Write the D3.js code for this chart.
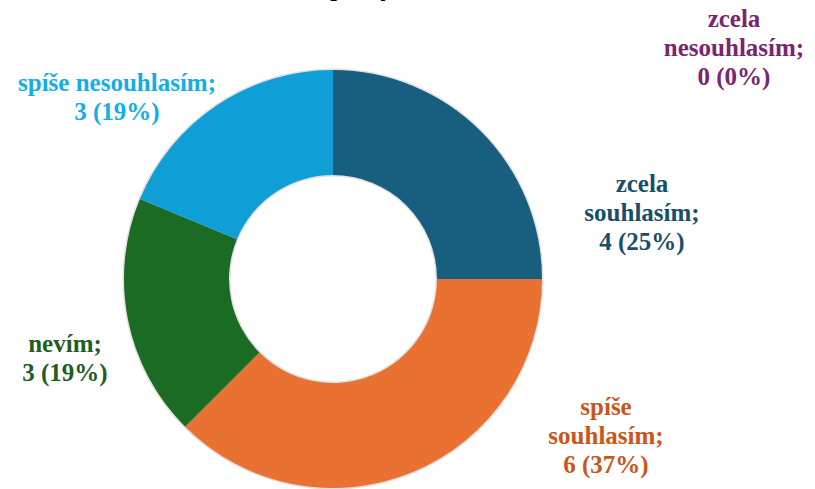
<!DOCTYPE html>
<html><head><meta charset="utf-8">
<script src="https://cdn.jsdelivr.net/npm/d3@7"></script>
<style>
html,body{margin:0;padding:0;background:#fff;overflow:hidden}
#wrap{position:relative;width:815px;height:489px}
#chart{position:absolute;left:0;top:0}
.lbl{position:absolute;width:260px;text-align:center;font-family:"Liberation Serif","Times New Roman",Tinos,serif;font-weight:bold;font-size:25px;line-height:29px;white-space:nowrap}
</style>
</head><body>
<div id="wrap"><svg id="chart" width="815" height="489"></svg></div>
<script>
const categories = ["zcela souhlasím", "spíše souhlasím", "nevím", "spíše nesouhlasím", "zcela nesouhlasím"];
const counts = [4, 6, 3, 3, 0];
const percentLabels = ["25%", "37%", "19%", "19%", "0%"];
const sliceColors = ["#175E7F", "#E97132", "#1B6B24", "#109ED6", "#A02B93"];
const labelColors = ["#174F69", "#C9561A", "#1F5E1F", "#14AEE6", "#7B2570"];
const labelLines = [["zcela", "souhlasím;"], ["spíše", "souhlasím;"], ["nevím;"], ["spíše nesouhlasím;"], ["zcela", "nesouhlasím;"]];
const titleText = "Spokojenost";

// layout (not data)
const cx = 333, cy = 279, R = 209, r = 104;
const labelAnchors = [[642, 192], [606, 415], [65, 352], [117, 91], [734, 27]];
const baselineOffset = 23;

const svg = d3.select("#chart");
const pie = d3.pie().sort(null).value(d => d)(counts);
const arc = d3.arc().innerRadius(r).outerRadius(R);
const g = svg.append("g").attr("transform", `translate(${cx},${cy})`);
g.append("path").attr("d", d3.arc().innerRadius(r - 1.5).outerRadius(R + 1.5)({startAngle: 0, endAngle: 2 * Math.PI}))
  .attr("fill", "#000").attr("opacity", 0.12);
g.selectAll("path.slice").data(pie).join("path").attr("class", "slice")
  .attr("d", arc).attr("fill", (d, i) => sliceColors[i]);

const wrap = d3.select("#wrap");
wrap.append("div").attr("class", "lbl")
  .style("left", (317 - 0) + "px").style("top", (-3 - baselineOffset) + "px")
  .style("width", "auto").style("text-align", "left").style("font-size", "24px")
  .style("color", "#000").text(titleText);

categories.forEach((c, i) => {
  const lines = labelLines[i].concat([`${counts[i]} (${percentLabels[i]})`]);
  const d = wrap.append("div").attr("class", "lbl")
    .style("left", (labelAnchors[i][0] - 130) + "px")
    .style("top", (labelAnchors[i][1] - baselineOffset) + "px")
    .style("color", labelColors[i]);
  lines.forEach((ln, k) => {
    if (k) d.append("br");
    d.append("span").text(ln);
  });
});
</script>
</body></html>
